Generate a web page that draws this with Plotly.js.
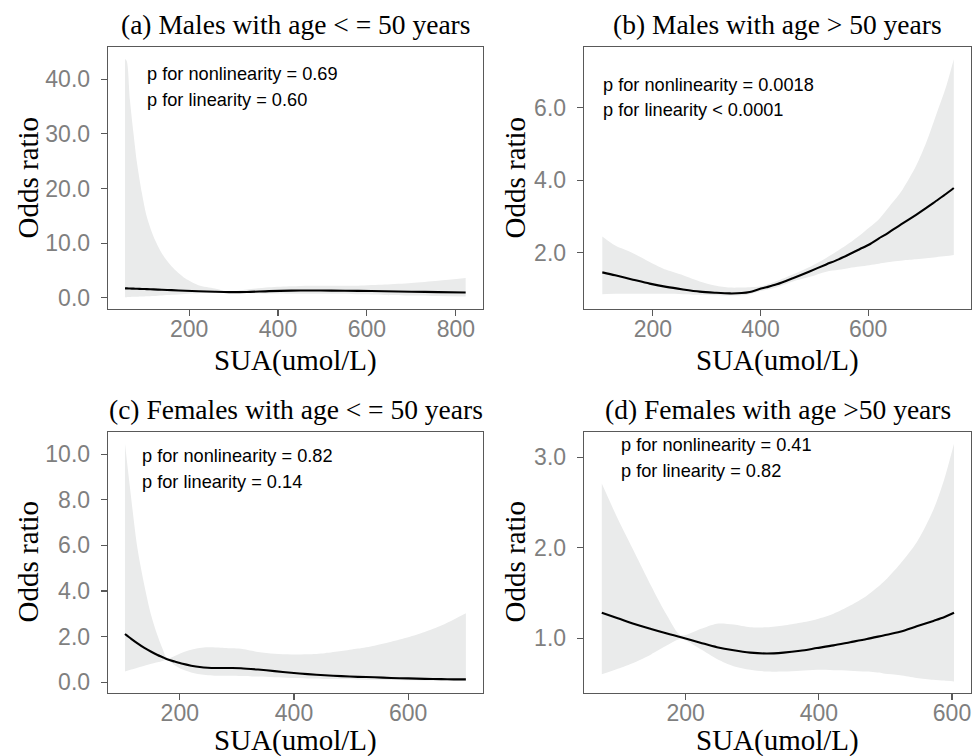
<!DOCTYPE html>
<html>
<head>
<meta charset="utf-8">
<script src="https://cdn.plot.ly/plotly-3.0.1.min.js"></script>
<style>html,body{margin:0;padding:0;background:#fff;}#chart{width:974px;height:756px;}</style>
</head>
<body>
<div id="chart"></div>
<script>
// ---- Panel (a) Males age <= 50 ----
const xA     = [56, 60, 67, 75, 83, 94, 105, 120, 139, 161, 191, 221, 258, 290, 330, 380, 430, 470, 520, 580, 640, 700, 760, 822];
const upperA = [43.7, 43.3, 36.2, 30.1, 24.6, 19.1, 14.8, 11.2, 8.1, 5.7, 3.55, 2.3, 1.7, 1.15, 1.5, 1.9, 2.1, 2.2, 2.2, 2.2, 2.4, 2.7, 3.1, 3.6];
const orA    = [1.7, 1.7, 1.68, 1.66, 1.64, 1.6, 1.57, 1.52, 1.45, 1.38, 1.28, 1.18, 1.08, 1.02, 1.05, 1.2, 1.3, 1.32, 1.3, 1.25, 1.18, 1.1, 1.02, 0.95];
const lowerA = [0.1, 0.1, 0.12, 0.15, 0.18, 0.22, 0.27, 0.33, 0.42, 0.53, 0.68, 0.82, 0.95, 0.98, 0.85, 0.75, 0.72, 0.72, 0.7, 0.62, 0.5, 0.4, 0.3, 0.22];

// ---- Panel (b) Males age > 50 ----
const xB     = [106, 130, 163, 194, 225, 256, 287, 315, 343, 365, 380, 398, 411, 430, 460, 490, 522, 545, 565, 584, 602, 620, 633, 646, 664, 689, 708, 726, 745, 759];
const upperB = [2.45, 2.2, 1.99, 1.75, 1.53, 1.38, 1.21, 1.1, 1.04, 1.04, 1.05, 1.07, 1.12, 1.22, 1.4, 1.6, 1.86, 2.07, 2.27, 2.48, 2.7, 2.93, 3.16, 3.4, 3.75, 4.4, 5.05, 5.8, 6.6, 7.34];
const orB    = [1.46, 1.38, 1.26, 1.15, 1.06, 0.99, 0.93, 0.9, 0.88, 0.89, 0.92, 1.0, 1.05, 1.13, 1.3, 1.48, 1.68, 1.82, 1.96, 2.1, 2.23, 2.4, 2.51, 2.64, 2.81, 3.05, 3.24, 3.43, 3.63, 3.79];
const lowerB = [0.86, 0.87, 0.87, 0.87, 0.87, 0.86, 0.84, 0.83, 0.82, 0.83, 0.86, 0.94, 0.98, 1.05, 1.21, 1.33, 1.48, 1.53, 1.58, 1.62, 1.66, 1.7, 1.73, 1.76, 1.79, 1.82, 1.85, 1.88, 1.91, 1.94];

// ---- Panel (c) Females age <= 50 ----
const xC     = [104, 115, 126, 138, 150, 161, 170, 178, 191, 205, 220, 235, 249, 265, 278, 292, 307, 337, 366, 395, 424, 454, 483, 512, 541, 570, 600, 629, 658, 680, 701];
const upperC = [10.47, 8.05, 5.85, 4.24, 2.92, 2.04, 1.45, 1.04, 1.15, 1.3, 1.42, 1.5, 1.53, 1.52, 1.5, 1.48, 1.46, 1.32, 1.24, 1.21, 1.22, 1.27, 1.36, 1.47, 1.6, 1.77, 1.97, 2.2, 2.48, 2.75, 3.02];
const orC    = [2.11, 1.9, 1.7, 1.5, 1.33, 1.19, 1.09, 1.0, 0.9, 0.8, 0.72, 0.66, 0.63, 0.62, 0.62, 0.62, 0.61, 0.55, 0.48, 0.41, 0.35, 0.3, 0.26, 0.23, 0.21, 0.18, 0.16, 0.14, 0.13, 0.12, 0.12];
const lowerC = [0.46, 0.55, 0.63, 0.72, 0.8, 0.87, 0.93, 0.98, 0.74, 0.55, 0.42, 0.34, 0.3, 0.28, 0.28, 0.28, 0.27, 0.24, 0.21, 0.18, 0.16, 0.14, 0.13, 0.11, 0.1, 0.09, 0.08, 0.07, 0.07, 0.06, 0.06];

// ---- Panel (d) Females age > 50 ----
const xD     = [74, 98, 123, 148, 172, 193, 222, 247, 272, 297, 322, 347, 372, 397, 422, 447, 472, 497, 522, 547, 572, 588, 603];
const upperD = [2.71, 2.32, 1.95, 1.58, 1.25, 1.03, 1.1, 1.16, 1.15, 1.12, 1.12, 1.14, 1.17, 1.21, 1.27, 1.36, 1.47, 1.62, 1.82, 2.06, 2.42, 2.75, 3.15];
const orD    = [1.28, 1.22, 1.155, 1.1, 1.05, 1.01, 0.95, 0.9, 0.865, 0.84, 0.83, 0.84, 0.86, 0.89, 0.92, 0.955, 0.99, 1.03, 1.07, 1.13, 1.19, 1.23, 1.28];
const lowerD = [0.6, 0.66, 0.73, 0.82, 0.92, 0.99, 0.88, 0.77, 0.69, 0.65, 0.63, 0.63, 0.64, 0.65, 0.645, 0.64, 0.63, 0.61, 0.59, 0.56, 0.54, 0.53, 0.52];

// ---- Texts ----
const panelTitles = ["(a) Males with age < = 50 years", "(b) Males with age > 50 years",
                     "(c) Females with age < = 50 years", "(d) Females with age >50 years"];
const pNonlin = ["p for nonlinearity = 0.69", "p for nonlinearity = 0.0018", "p for nonlinearity = 0.82", "p for nonlinearity = 0.41"];
const pLin    = ["p for linearity = 0.60", "p for linearity < 0.0001", "p for linearity = 0.14", "p for linearity = 0.82"];
const xTitle = "SUA(umol/L)";
const yTitle = "Odds ratio";

const xTicksA = [200, 400, 600, 800];
const xTicksB = [200, 400, 600];
const yTicksA = [0, 10, 20, 30, 40];
const yTicksB = [2, 4, 6];
const yTicksC = [0, 2, 4, 6, 8, 10];
const yTicksD = [1, 2, 3];

const W = 974, H = 756;
const px = v => v / W;
const py = v => 1 - v / H;

const bandColor = 'rgb(234,235,235)';
function panel(x, lo, up, mid, xa, ya) {
  return [
    {x: x, y: lo, xaxis: xa, yaxis: ya, mode: 'lines', line: {width: 0, shape: 'spline', smoothing: 0.8}, hoverinfo: 'skip', showlegend: false},
    {x: x, y: up, xaxis: xa, yaxis: ya, mode: 'lines', fill: 'tonexty', fillcolor: bandColor, line: {width: 0, shape: 'spline', smoothing: 0.8}, hoverinfo: 'skip', showlegend: false},
    {x: x, y: mid, xaxis: xa, yaxis: ya, mode: 'lines', line: {color: '#000', width: 2.1, shape: 'spline', smoothing: 0.8}, showlegend: false}
  ];
}

const data = [].concat(
  panel(xA, lowerA, upperA, orA, 'x', 'y'),
  panel(xB, lowerB, upperB, orB, 'x2', 'y2'),
  panel(xC, lowerC, upperC, orC, 'x3', 'y3'),
  panel(xD, lowerD, upperD, orD, 'x4', 'y4')
);

const tickFont = {family: 'Liberation Sans, Arial, sans-serif', size: 23, color: '#7f7f7f'};
function ax(domain, range, tickvals, anchor, isY) {
  const a = {
    domain: domain, range: range, tickvals: tickvals, anchor: anchor,
    showline: true, mirror: true, linecolor: '#595959', linewidth: 1.3,
    ticks: 'outside', ticklen: 6, tickwidth: 1.1, tickcolor: '#595959',
    tickfont: tickFont, showgrid: false, zeroline: false, fixedrange: true,
    ticklabelstandoff: isY ? 6 : -7
  };
  if (isY) a.tickformat = '.1f';
  return a;
}

const xdomL = [px(108), px(483)], xdomR = [px(584), px(971)];
const ydomT = [py(309), py(47)], ydomB = [py(693), py(432)];

const layout = {
  width: W, height: H,
  margin: {l: 0, r: 0, t: 0, b: 0},
  paper_bgcolor: '#fff', plot_bgcolor: '#fff',
  showlegend: false,
  xaxis:  ax(xdomL, [17.7, 861], xTicksA, 'y', false),
  yaxis:  ax(ydomT, [-2.07, 45.9], yTicksA, 'x', true),
  xaxis2: ax(xdomR, [72, 791], xTicksB, 'y2', false),
  yaxis2: ax(ydomT, [0.45, 7.68], yTicksB, 'x2', true),
  xaxis3: ax(xdomL, [74.3, 731], xTicksB, 'y3', false),
  yaxis3: ax(ydomB, [-0.48, 10.98], yTicksC, 'x3', true),
  xaxis4: ax(xdomR, [47.3, 628.5], xTicksB, 'y4', false),
  yaxis4: ax(ydomB, [0.393, 3.28], yTicksD, 'x4', true),
  annotations: []
};

const titleFont = {family: 'Liberation Serif, Times New Roman, serif', size: 27.5, color: '#000'};
const axTitleFont = {family: 'Liberation Serif, Times New Roman, serif', size: 29, color: '#000'};
const pFont = {family: 'Liberation Sans, Arial, sans-serif', size: 18.2, color: '#000'};

const centersX = [295.5, 777.5, 295.5, 777.5];
const titleY = [25, 25, 409.5, 409.5];
const xTitleY = [361, 361, 740, 740];
const yTitleX = [27.5, 514.5, 27.5, 514.5];
const yTitleY = [178, 178, 562, 562];
const pX = [145, 601, 140, 619];
const p1Y = [74, 85, 456, 445];
const p2Y = [100, 110, 482, 471];

for (let i = 0; i < 4; i++) {
  layout.annotations.push({text: panelTitles[i], xref: 'paper', yref: 'paper', x: px(centersX[i]), y: py(titleY[i]), xanchor: 'center', yanchor: 'middle', showarrow: false, font: titleFont});
  layout.annotations.push({text: xTitle, xref: 'paper', yref: 'paper', x: px(centersX[i]), y: py(xTitleY[i]), xanchor: 'center', yanchor: 'middle', showarrow: false, font: axTitleFont});
  layout.annotations.push({text: yTitle, xref: 'paper', yref: 'paper', x: px(yTitleX[i]), y: py(yTitleY[i]), xanchor: 'center', yanchor: 'middle', textangle: -90, showarrow: false, font: axTitleFont});
  layout.annotations.push({text: pNonlin[i], xref: 'paper', yref: 'paper', x: px(pX[i]), y: py(p1Y[i]), xanchor: 'left', yanchor: 'middle', showarrow: false, font: pFont});
  layout.annotations.push({text: pLin[i], xref: 'paper', yref: 'paper', x: px(pX[i]), y: py(p2Y[i]), xanchor: 'left', yanchor: 'middle', showarrow: false, font: pFont});
}

Plotly.newPlot('chart', data, layout, {staticPlot: true, displayModeBar: false});
</script>
</body>
</html>
